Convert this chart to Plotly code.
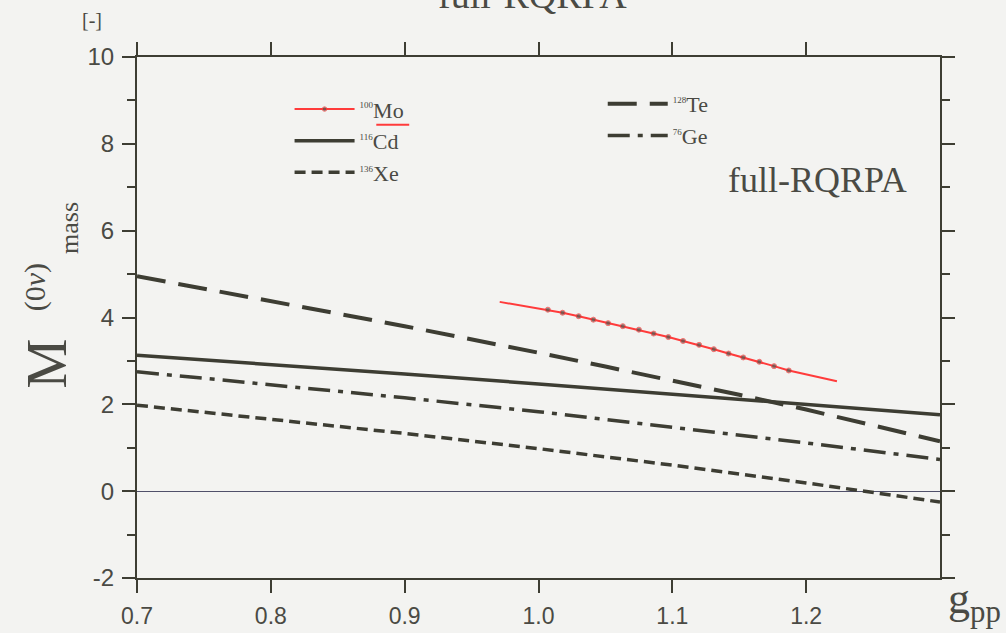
import plotly.graph_objects as go

# ---------------- data ----------------
g_grid = [0.70, 0.75, 0.80, 0.85, 0.90, 0.95, 1.00, 1.05, 1.10, 1.15, 1.20, 1.25, 1.30]
te_128 = [4.95, 4.67, 4.38, 4.09, 3.80, 3.50, 3.19, 2.87, 2.55, 2.22, 1.88, 1.52, 1.15]

g_coarse = [0.70, 0.80, 0.90, 1.00, 1.10, 1.20, 1.30]
cd_116 = [3.13, 2.92, 2.70, 2.47, 2.23, 1.99, 1.76]
ge_76 = [2.75, 2.46, 2.15, 1.83, 1.48, 1.11, 0.73]
xe_136 = [1.98, 1.66, 1.33, 0.98, 0.60, 0.19, -0.25]

g_mo = [0.971, 1.007, 1.018, 1.030, 1.041, 1.052, 1.063, 1.075, 1.086, 1.097,
        1.108, 1.120, 1.131, 1.142, 1.153, 1.165, 1.176, 1.187, 1.223]
mo_100 = [4.36, 4.18, 4.11, 4.03, 3.95, 3.87, 3.80, 3.72, 3.63, 3.55,
          3.46, 3.37, 3.27, 3.17, 3.08, 2.98, 2.88, 2.78, 2.53]

x_tickvals = [0.7, 0.8, 0.9, 1.0, 1.1, 1.2]
x_ticktext = ["0.7", "0.8", "0.9", "1.0", "1.1", "1.2"]
y_tickvals = [-2, 0, 2, 4, 6, 8, 10]
y_ticktext = ["-2", "0", "2", "4", "6", "8", "10"]

# ---------------- styling ----------------
INK = "#3d3d33"
TXT = "#4a4a44"
BG = "#f3f3f1"
RED = "#ff3b3b"
SERIF = "Liberation Serif, Times New Roman, serif"
SANS = "Liberation Sans, Arial, sans-serif"


def lab(mass, sym):
    return "<sup><span style='font-size:9px'>" + mass + "</span></sup>" + sym


fig = go.Figure()

marker_sizes = [0] + [5] * (len(g_mo) - 2) + [0]
fig.add_trace(go.Scatter(
    x=g_mo, y=mo_100, mode="lines+markers", name=lab("100", "Mo"),
    line=dict(color=RED, width=2),
    marker=dict(color="#55554d", size=marker_sizes),
    legend="legend"))
fig.add_trace(go.Scatter(
    x=g_coarse, y=cd_116, mode="lines", name=lab("116", "Cd"),
    line=dict(color=INK, width=3.5), legend="legend"))
fig.add_trace(go.Scatter(
    x=g_coarse, y=xe_136, mode="lines", name=lab("136", "Xe"),
    line=dict(color=INK, width=3.5, dash="11px,6px"), legend="legend"))
fig.add_trace(go.Scatter(
    x=g_grid, y=te_128, mode="lines", name=lab("128", "Te"),
    line=dict(color=INK, width=4, dash="29px,13px"), legend="legend2"))
fig.add_trace(go.Scatter(
    x=g_coarse, y=ge_76, mode="lines", name=lab("76", "Ge"),
    line=dict(color=INK, width=3.5, dash="22px,8px,5px,8px"), legend="legend2"))

axis_common = dict(
    showline=True, linecolor=INK, linewidth=2, mirror="allticks",
    ticks="outside", tickcolor=INK, tickwidth=2,
    showgrid=False, automargin=False,
)

fig.update_xaxes(
    range=[0.7, 1.3], tickvals=x_tickvals, ticktext=x_ticktext,
    ticklen=13, ticklabelstandoff=3, zeroline=False,
    tickfont=dict(family=SANS, size=23, color=TXT), **axis_common)
fig.update_yaxes(
    range=[-2, 10], tickvals=y_tickvals, ticktext=y_ticktext,
    ticklen=13, ticklabelstandoff=3,
    tickfont=dict(family=SANS, size=24, color=TXT),
    minor=dict(dtick=1, ticks="outside", ticklen=8, tickcolor=INK, tickwidth=2),
    zeroline=True, zerolinecolor="#50506a", zerolinewidth=1.2, **axis_common)

legend_common = dict(
    bgcolor="rgba(0,0,0,0)", borderwidth=0, itemwidth=60,
    font=dict(family=SERIF, size=22, color=TXT),
    xanchor="left", yanchor="top", tracegroupgap=0,
)


def ann(text, x, y, size, angle=0, xa="center", ya="middle"):
    return dict(text=text, xref="paper", yref="paper", x=x, y=y,
                xanchor=xa, yanchor=ya, textangle=angle, showarrow=False,
                font=dict(family=SERIF, size=size, color=TXT))


fig.update_layout(
    width=1006, height=633,
    margin=dict(l=137, r=66, t=57, b=55),
    paper_bgcolor=BG, plot_bgcolor=BG,
    showlegend=True,
    legend=dict(x=0.19, y=0.94, **legend_common),
    legend2=dict(x=0.58, y=0.95, **legend_common),
    annotations=[
        ann("full-RQRPA", 0.848, 0.764, 36),
        ann("full-RQRPA", 0.492, 1.075, 38, ya="bottom"),
        ann("M", -0.112, 0.412, 56, angle=-90),
        ann("(0<i>ν</i>)", -0.127, 0.558, 30, angle=-90),
        ann("mass", -0.0834, 0.672, 26, angle=-90),
        ann("[-]", -0.056, 1.071, 20),
        ann("g<sub>pp</sub>", 1.007, 0.012, 44, xa="left", ya="top"),
    ],
    shapes=[
        dict(type="line", xref="paper", yref="paper",
             x0=0.298, x1=0.339, y0=0.870, y1=0.870,
             line=dict(color=RED, width=2)),
    ],
)

fig.write_html("out.html")
